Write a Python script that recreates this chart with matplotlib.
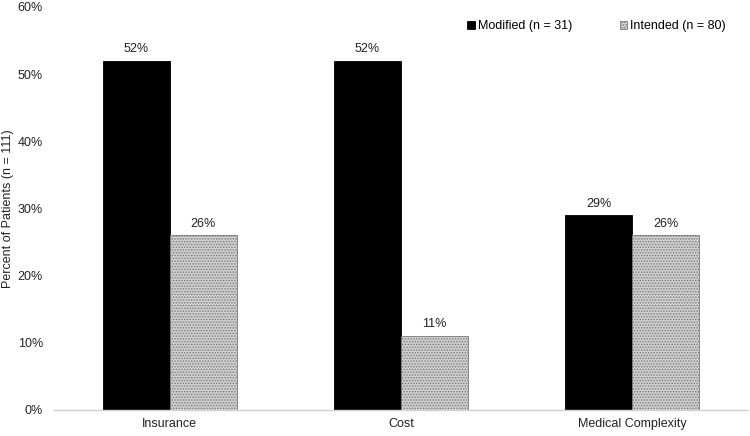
import numpy as np
import matplotlib.pyplot as plt

categories = ['Insurance', 'Cost', 'Medical Complexity']
modified = [52, 52, 29]
intended = [26, 11, 26]
series_labels = ['Modified (n = 31)', 'Intended (n = 80)']

plt.rcParams['font.family'] = ['Liberation Sans', 'DejaVu Sans']
plt.rcParams['hatch.linewidth'] = 0.7

fig = plt.figure(figsize=(7.5, 4.36), dpi=100)
ax = fig.add_axes([0.072, 0.06, 0.925, 0.924])

x = np.arange(len(categories))
w = 0.29
b1 = ax.bar(x - w/2, modified, w, color='black', edgecolor='black', linewidth=0.6,
            label=series_labels[0])
b2 = ax.bar(x + w/2, intended, w, color='#cfcfcf', edgecolor='#7a7a7a', hatch='......',
            linewidth=0.6, label=series_labels[1])

for bars, vals in ((b1, modified), (b2, intended)):
    for r, v in zip(bars, vals):
        ax.annotate(f'{v}%', (r.get_x() + r.get_width()/2, v), xytext=(0, 4),
                    textcoords='offset points', ha='center', va='bottom',
                    fontsize=9, color='#222222')

ax.set_xlim(-0.5, 2.5)
ax.set_ylim(0, 60)
ax.set_yticks(range(0, 61, 10))
ax.set_yticklabels([f'{t}%' for t in range(0, 61, 10)])
ax.set_xticks(x)
ax.set_xticklabels(categories)
ax.tick_params(length=0, labelsize=9, colors='#222222')
ax.tick_params(axis='y', pad=8)
ax.tick_params(axis='x', pad=6)
for s in ('top', 'right', 'left'):
    ax.spines[s].set_visible(False)
ax.spines['bottom'].set_color('#d0d0d0')
ax.spines['bottom'].set_linewidth(1)

ax.set_ylabel('Percent of Patients (n = 111)', fontsize=9, color='#222222')
ax.yaxis.set_label_coords(-0.057, 0.5)

ax.legend(loc='upper right', bbox_to_anchor=(0.985, 0.995), ncol=2, frameon=False,
          fontsize=9, handlelength=0.6, handleheight=0.6, handletextpad=0.25,
          columnspacing=3.8)

fig.savefig('out.png', dpi=100)
